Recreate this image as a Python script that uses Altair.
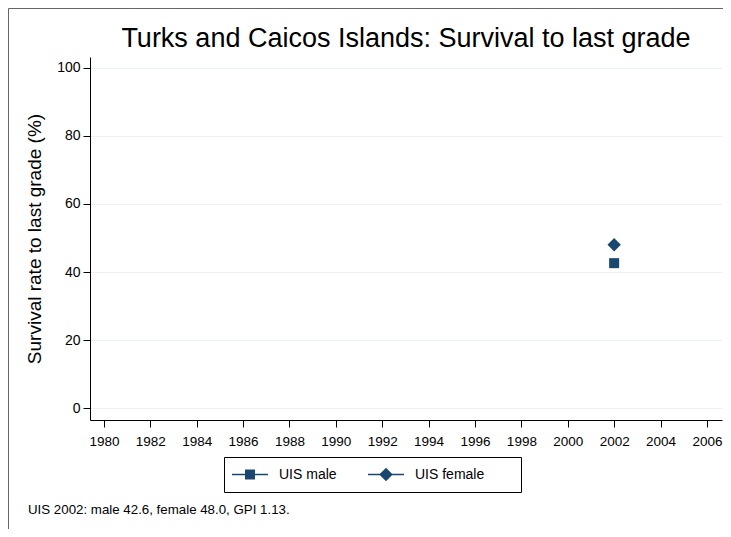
import altair as alt
import pandas as pd

series = ["UIS male", "UIS female"]
years = [2002, 2002]
values = [42.6, 48.0]
x_ticks = list(range(1980, 2007, 2))
y_ticks = [0, 20, 40, 60, 80, 100]
title_text = "Turks and Caicos Islands: Survival to last grade"
y_title = "Survival rate to last grade (%)"
note_text = "UIS 2002: male 42.6, female 48.0, GPI 1.13."

df = pd.DataFrame({"series": series, "year": years, "value": values})
legend_df = pd.DataFrame({"series": series})

COL = "#1a476f"
FONT = "Liberation Sans"
W, H = 632, 363

shape_scale = alt.Scale(domain=series, range=["square", "diamond"])
size_scale = alt.Scale(domain=series, range=[100, 180])

xenc = alt.X("year:Q",
             scale=alt.Scale(domain=[1979.4, 2006.65], nice=False, zero=False),
             axis=alt.Axis(values=x_ticks, format="d", title=None, grid=False,
                           tickSize=7, labelPadding=7, domainColor="#000000",
                           tickColor="#000000", labelFontSize=13.5, labelColor="#000000",
                           labelFont=FONT))
yenc = alt.Y("value:Q",
             scale=alt.Scale(domain=[-3.5, 103.2], nice=False, zero=False),
             axis=alt.Axis(values=y_ticks, title=y_title, grid=True, gridColor="#eaf2f3",
                           tickSize=7, labelPadding=3, domainColor="#000000",
                           tickColor="#000000", labelFontSize=14, labelColor="#000000",
                           titleFontSize=19, titleFontWeight="normal", titleColor="#000000",
                           titlePadding=12, labelFont=FONT, titleFont=FONT))

points = alt.Chart(df).mark_point(filled=True, color=COL, opacity=1).encode(
    x=xenc, y=yenc,
    shape=alt.Shape("series:N", scale=shape_scale, legend=None),
    size=alt.Size("series:N", scale=size_scale, legend=None),
)

# hand-made legend (line + marker + label), placed by its own point x scale
lx = alt.X("series:N", scale=alt.Scale(type="point", domain=series, range=[160, 296], padding=0),
           axis=None)
LY = 417.5

leg_line = alt.Chart(legend_df).mark_rule(
    color=COL, strokeWidth=1.5, xOffset=-18, x2Offset=18
).encode(x=lx, x2=alt.X2("series:N"), y=alt.value(LY))

leg_pt = alt.Chart(legend_df).mark_point(filled=True, color=COL, opacity=1).encode(
    x=lx, y=alt.value(LY),
    shape=alt.Shape("series:N", scale=shape_scale, legend=None),
    size=alt.Size("series:N", scale=size_scale, legend=None),
)

leg_txt = alt.Chart(legend_df).mark_text(
    align="left", baseline="middle", dx=29, fontSize=14, font=FONT, color="#000000"
).encode(x=lx, y=alt.value(LY), text="series:N")

legend_box = alt.Chart(pd.DataFrame({"a": [0]})).mark_rect(
    fill=None, stroke="#000000", strokeWidth=1
).encode(x=alt.value(134.5), x2=alt.value(431.5), y=alt.value(400.5), y2=alt.value(435.5))

title = alt.Chart(pd.DataFrame({"t": [title_text]})).mark_text(
    align="center", baseline="alphabetic", fontSize=27, font=FONT, color="#000000"
).encode(text="t:N", x=alt.value(W / 2), y=alt.value(-10))

note = alt.Chart(pd.DataFrame({"t": [note_text]})).mark_text(
    align="left", baseline="middle", fontSize=13.3, font=FONT, color="#000000"
).encode(text="t:N", x=alt.value(-62), y=alt.value(453))

frame = alt.Chart(pd.DataFrame({"a": [0]})).mark_rect(
    fill=None, stroke="#666666", strokeWidth=1
).encode(x=alt.value(-81.5), y=alt.value(-48.5), x2=alt.value(700), y2=alt.value(600))

chart = alt.layer(frame, legend_box, points, leg_line, leg_pt, leg_txt, title, note).resolve_scale(
    x="independent"
).properties(
    width=W, height=H,
    autosize=alt.AutoSizeParams(type="none"),
    padding={"left": 82, "top": 49, "right": 1, "bottom": 109},
    background="white",
).configure_view(stroke=None)

chart.save("out.html", embed_options={"renderer": "svg", "actions": False})
